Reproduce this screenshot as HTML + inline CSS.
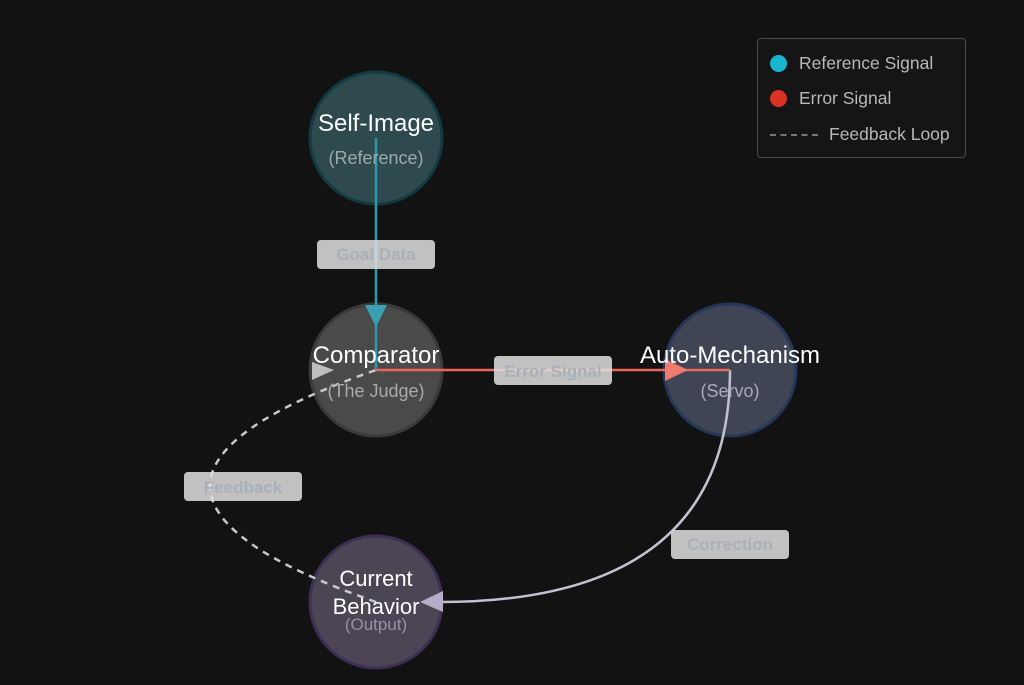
<!DOCTYPE html>
<html><head><style>
html,body{margin:0;padding:0;background:#121212;}
body{width:1024px;height:685px;position:relative;overflow:hidden;font-family:"Liberation Sans",sans-serif;}
.legend{position:absolute;left:757px;top:38px;width:209px;height:120px;border:1px solid #4a4a4a;border-radius:4px;box-sizing:border-box;background:#151515;}
.li{position:absolute;left:12px;font-size:17.5px;color:#b8b8b8;}
.dot{position:absolute;left:12px;width:17px;height:17px;border-radius:50%;}
</style></head><body>
<svg width="1024" height="685" style="position:absolute;left:0;top:0">
<circle cx="376" cy="138" r="66" fill="#2e4a4f" stroke="#123a42" stroke-width="3"/>
<circle cx="376" cy="370" r="66" fill="#4a4a4a" stroke="#3a3a3a" stroke-width="3"/>
<circle cx="730" cy="370" r="66" fill="#3f4555" stroke="#263656" stroke-width="3"/>
<circle cx="376" cy="602" r="66" fill="#4c4554" stroke="#3f2f56" stroke-width="3"/>
<path d="M376,602 Q44,486 376,370" fill="none" stroke="#c8c8c8" stroke-width="2.5" stroke-dasharray="7,6"/>
<path d="M312,362 L334,370 L312,380 z" fill="#bdbdbd"/>
<path d="M730,370 Q730,602 440,602" fill="none" stroke="#c0c2d0" stroke-width="2.5"/>
<path d="M420,602 L443,591 L443,612 z" fill="#b6aec8"/>
<line x1="376" y1="138" x2="376" y2="370" stroke="#2f97ad" stroke-width="2.5"/>
<path d="M365,305 L387,305 L376,327 z" fill="#3a9fb3"/>
<line x1="376" y1="370" x2="730" y2="370" stroke="#e8675a" stroke-width="2.5"/>
<path d="M665,359 L688,370 L665,381 z" fill="#ee7a70"/>
<g font-family="Liberation Sans" font-weight="bold" font-size="17" fill="#a9b0b8" text-anchor="middle">
<rect x="317" y="240" width="118" height="29" rx="4" fill="#e0e0e0" opacity="0.85"/>
<text x="376" y="260">Goal Data</text>
<rect x="494" y="356" width="118" height="29" rx="4" fill="#e0e0e0" opacity="0.85"/>
<text x="553" y="377">Error Signal</text>
<rect x="184" y="472" width="118" height="29" rx="4" fill="#e0e0e0" opacity="0.85"/>
<text x="243" y="493">Feedback</text>
<rect x="671" y="530" width="118" height="29" rx="4" fill="#e0e0e0" opacity="0.85"/>
<text x="730" y="550">Correction</text>
</g>
<g font-family="Liberation Sans" text-anchor="middle">
<text x="376" y="131" font-size="24" fill="#fff">Self-Image</text>
<text x="376" y="164" font-size="18" fill="#9aa">(Reference)</text>
<text x="376" y="363" font-size="24" fill="#fff">Comparator</text>
<text x="376" y="397" font-size="18" fill="#aaa">(The Judge)</text>
<text x="730" y="363" font-size="24" fill="#fff">Auto-Mechanism</text>
<text x="730" y="397" font-size="18" fill="#aab">(Servo)</text>
<text x="376" y="586" font-size="22" fill="#fff">Current</text>
<text x="376" y="614" font-size="22" fill="#fff">Behavior</text>
<text x="376" y="630" font-size="17" fill="#998fa8">(Output)</text>
</g>
</svg>
<div class="legend">
<div class="dot" style="top:16px;background:#17b5cf"></div>
<div class="li" style="left:41px;top:14px">Reference Signal</div>
<div class="dot" style="top:51px;background:#dc3226"></div>
<div class="li" style="left:41px;top:49px">Error Signal</div>
<div style="position:absolute;left:12px;top:95px;width:48px;border-top:2px dashed #777"></div>
<div class="li" style="left:71px;top:85px">Feedback Loop</div>
</div>
</body></html>
